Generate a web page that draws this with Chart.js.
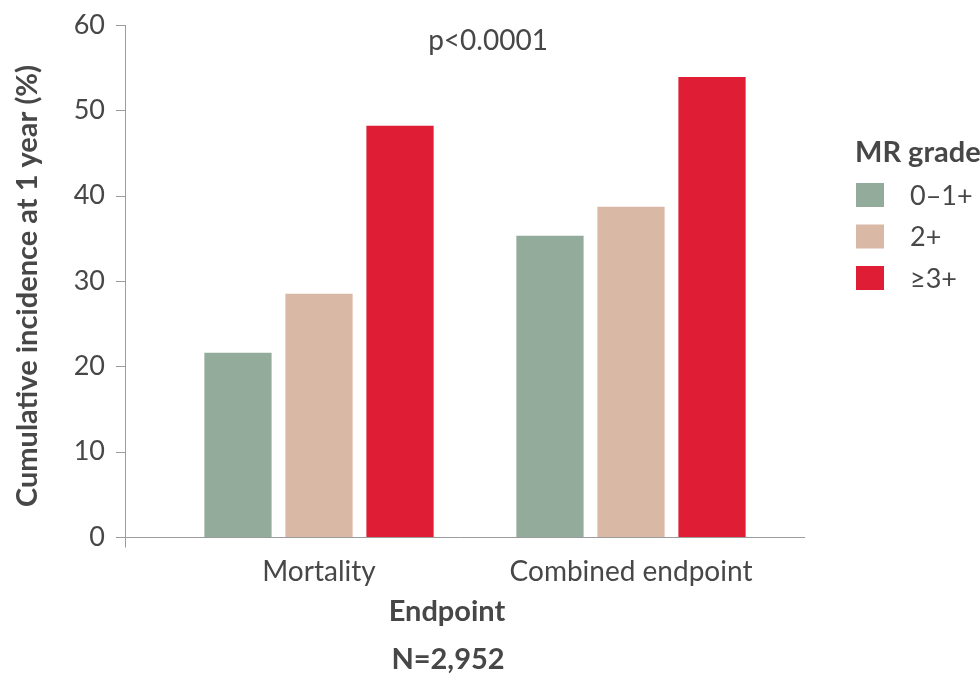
<!DOCTYPE html>
<html lang="en">
<head>
<meta charset="UTF-8">
<title>MR grade and 1-year outcomes</title>
<script src="https://cdn.jsdelivr.net/npm/chart.js"></script>
<style>
  body { margin: 0; background: #fff; }
  canvas { display: block; }
</style>
</head>
<body>
<canvas id="mrChart" width="980" height="674"></canvas>
<script>
// data
var categories = ['Mortality', 'Combined endpoint'];
var gradeLabels = ['0\u20131+', '2+', '\u22653+'];
var grade01 = [21.6, 35.3];
var grade2 = [28.5, 38.7];
var grade3 = [48.2, 53.9];
var yTicks = [0, 10, 20, 30, 40, 50, 60];

var colors = ['#93AB9A', '#D9B8A5', '#DF1D35'];
var textColor = '#474747';
var fontName = 'Lato';

// axis lines, titles and legend drawn by hand so they sit where the figure has them
var decor = {
    id: 'decor',
    afterDraw: function (chart) {
        var ctx = chart.ctx;
        var y = chart.scales.y;
        var axisX = 125;
        var y0 = Math.round(y.getPixelForValue(0)) + 0.5;
        ctx.save();
        ctx.strokeStyle = '#9c9c9c';
        ctx.lineWidth = 1;
        ctx.beginPath();
        ctx.moveTo(axisX + 0.5, y.top);
        ctx.lineTo(axisX + 0.5, y0 + 10);
        ctx.moveTo(axisX - 9, y0);
        ctx.lineTo(805, y0);
        yTicks.forEach(function (v) {
            var py = Math.round(y.getPixelForValue(v)) + 0.5;
            ctx.moveTo(axisX - 9, py);
            ctx.lineTo(axisX, py);
        });
        ctx.stroke();

        ctx.fillStyle = textColor;
        ctx.textBaseline = 'middle';
        ctx.textAlign = 'center';
        ctx.font = '28px ' + fontName;
        ctx.fillText('p<0.0001', 488, 41);
        ctx.font = 'bold 29px ' + fontName;
        ctx.fillText('Endpoint', 447, 612);
        ctx.fillText('N=2,952', 448, 660);

        ctx.save();
        ctx.translate(28, 286);
        ctx.rotate(-Math.PI / 2);
        ctx.font = 'bold 29px ' + fontName;
        ctx.fillText('Cumulative incidence at 1 year (%)', 0, 0);
        ctx.restore();

        // legend
        ctx.textAlign = 'left';
        ctx.font = 'bold 29px ' + fontName;
        ctx.fillText('MR grade', 855, 153);
        ctx.font = '27px ' + fontName;
        chart.data.datasets.forEach(function (ds, i) {
            var top = 183 + i * 41.5;
            ctx.fillStyle = ds.backgroundColor;
            ctx.fillRect(856, top, 28, 24);
            ctx.fillStyle = textColor;
            ctx.fillText(ds.label, 910, top + 13);
        });
        ctx.restore();
    }
};

var ctx = document.getElementById('mrChart').getContext('2d');
var mrChart = new Chart(ctx, {
    type: 'bar',
    data: {
        labels: categories,
        datasets: [
            { label: gradeLabels[0], data: grade01, backgroundColor: colors[0] },
            { label: gradeLabels[1], data: grade2, backgroundColor: colors[1] },
            { label: gradeLabels[2], data: grade3, backgroundColor: colors[2] }
        ]
    },
    options: {
        responsive: false,
        animation: false,
        devicePixelRatio: 1,
        layout: { padding: { top: 25, right: 193, left: 0, bottom: 0 } },
        datasets: {
            bar: { categoryPercentage: 0.779, barPercentage: 0.83, borderWidth: 0 }
        },
        plugins: {
            legend: { display: false },
            tooltip: { enabled: false }
        },
        scales: {
            x: {
                grid: { display: false },
                border: { display: false },
                ticks: {
                    color: textColor,
                    font: { family: fontName, size: 28 },
                    padding: 10,
                    maxRotation: 0
                },
                afterFit: function (scale) {
                    scale.height = 137;
                    scale.paddingLeft = 0;
                    scale.paddingRight = 0;
                }
            },
            y: {
                min: 0,
                max: 60,
                grid: { display: false },
                border: { display: false },
                afterBuildTicks: function (scale) {
                    scale.ticks = yTicks.map(function (v) { return { value: v }; });
                },
                ticks: {
                    color: textColor,
                    font: { family: fontName, size: 27 },
                    padding: 50
                },
                afterFit: function (scale) {
                    scale.width = 163;
                    scale.paddingTop = 0;
                    scale.paddingBottom = 0;
                }
            }
        }
    },
    plugins: [decor]
});
</script>
</body>
</html>
